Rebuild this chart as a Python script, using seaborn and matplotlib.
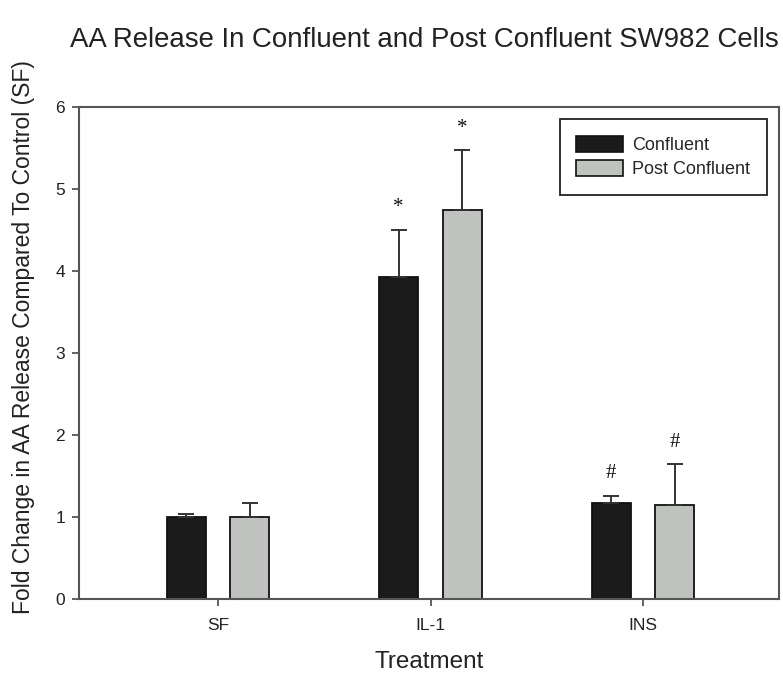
import matplotlib
matplotlib.use("Agg")
import matplotlib.pyplot as plt
from matplotlib.patches import Patch
import seaborn as sns
import numpy as np
import pandas as pd

# Fold change in AA release relative to serum-free control
treatments = ["SF", "IL-1", "INS"]
confluent = [1.00, 3.93, 1.17]
post_confluent = [1.00, 4.74, 1.14]
confluent_err = [0.04, 0.57, 0.09]
post_confluent_err = [0.17, 0.73, 0.50]
confluent_marks = ["", "*", "#"]
post_confluent_marks = ["", "*", "#"]
groups = ["Confluent", "Post Confluent"]
yticks = [0, 1, 2, 3, 4, 5, 6]

df = pd.DataFrame({
    "Treatment": treatments * 2,
    "Fold": confluent + post_confluent,
    "State": [groups[0]] * 3 + [groups[1]] * 3,
})

sns.set_style("white")
plt.rcParams["font.family"] = ["Liberation Sans", "DejaVu Sans"]

fig = plt.figure(figsize=(7.83, 6.79), dpi=100)
ax = fig.add_axes([0.1009, 0.1181, 0.8935, 0.7243])

palette = {groups[0]: "#1b1b1b", groups[1]: "#c0c2c0"}
sns.barplot(data=df, x="Treatment", y="Fold", hue="State", order=treatments,
            hue_order=groups, palette=palette, width=0.6, gap=0.39,
            edgecolor="#111111", linewidth=1.3, errorbar=None, legend=False,
            saturation=1, ax=ax)

spine_col = "#555555"
errs = [confluent_err, post_confluent_err]
vals = [confluent, post_confluent]
marks = [confluent_marks, post_confluent_marks]
for cont, v, e, m in zip(ax.containers, vals, errs, marks):
    xs = [p.get_x() + p.get_width() / 2 for p in cont.patches]
    ax.errorbar(xs, v, yerr=[np.zeros(len(e)), e], fmt="none",
                ecolor="#333333", elinewidth=1.4, capsize=5.5, capthick=1.4,
                zorder=1)
    for x, vi, ei, mk in zip(xs, v, e, m):
        if mk:
            ax.annotate(mk, (x, vi + ei), xytext=(0, 9), textcoords="offset points",
                        ha="center", va="bottom", fontsize=15,
                        family=["Liberation Serif", "DejaVu Serif"], color="#111111")

ax.set_ylim(0, 6)
ax.set_xlim(-0.654, 2.638)
ax.set_yticks(yticks)
ax.set_yticklabels([str(t) for t in yticks])

for s in ax.spines.values():
    s.set_visible(True)
    s.set_color(spine_col)
    s.set_linewidth(1.5)

ax.tick_params(axis="both", direction="out", length=5, width=1.3, color=spine_col,
               labelsize=12.5, labelcolor="#222222", pad=5,
               left=True, bottom=True)
ax.tick_params(axis="x", pad=9)

ax.set_xlabel("Treatment", fontsize=17.5, color="#222222", labelpad=13)
ax.set_ylabel("Fold Change in AA Release Compared To Control (SF)", fontsize=16.5,
              color="#222222")
ax.yaxis.set_label_coords(-0.063, 0.532)

fig.text(424 / 783, 1 - 40 / 679,
         "AA Release In Confluent and Post Confluent SW982 Cells",
         ha="center", va="center", fontsize=19.9, color="#222222")

handles = [Patch(facecolor=palette[g], edgecolor="#111111", linewidth=1.2) for g in groups]
leg = ax.legend(handles, groups, loc="upper right", bbox_to_anchor=(0.983, 0.975),
                borderaxespad=0, fontsize=13, frameon=True, fancybox=False,
                framealpha=1, edgecolor="#222222", handlelength=2.6,
                handleheight=1.0, borderpad=0.9, labelspacing=0.35,
                handletextpad=0.5)
leg.get_frame().set_linewidth(1.3)

fig.savefig("out.png", dpi=100)
